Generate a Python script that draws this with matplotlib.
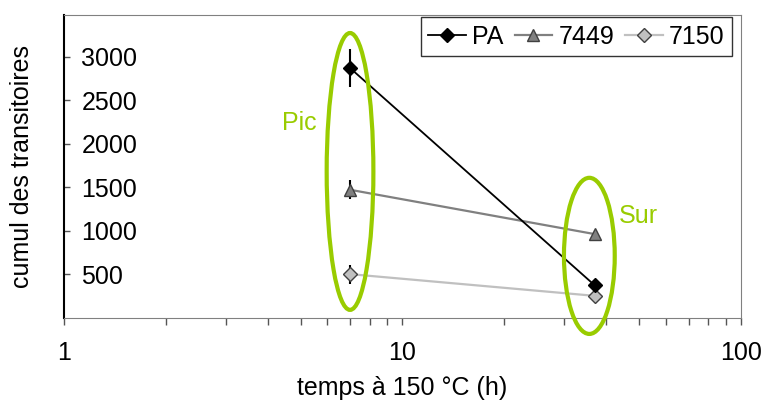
import matplotlib.pyplot as plt
from matplotlib.patches import Ellipse
from matplotlib.ticker import LogLocator, NullFormatter

plt.rcParams['font.family'] = ['Liberation Sans', 'DejaVu Sans']

# données
temps = [7, 37]
pa = [2870, 370]
pa_err = [220, 40]
a7449 = [1470, 960]
a7449_err = [110, 50]
a7150 = [500, 250]
a7150_err = [110, 30]
yticks = [500, 1000, 1500, 2000, 2500, 3000]

vert = '#99cc00'
fs = 18

fig = plt.figure(figsize=(7.63, 4.03), dpi=100)
ax = fig.add_axes([64 / 763, 1 - 317.6 / 403, 677 / 763, 302.6 / 403])

series = [
    (pa, pa_err, 'PA', 'black', 'D', 7, 'black', 1.3, 4),
    (a7449, a7449_err, '7449', '#808080', '^', 9, '#404040', 1.6, 3),
    (a7150, a7150_err, '7150', '#c0c0c0', 'D', 7, '#404040', 1.6, 3),
]
for vals, err, lab, col, mk, ms, mec, lw, z in series:
    ax.errorbar(temps, vals, yerr=err, fmt='none', ecolor='black', elinewidth=1.5,
                capsize=0, zorder=z)
    ax.plot(temps, vals, color=col, marker=mk, markersize=ms, markerfacecolor=col,
            markeredgecolor=mec, lw=lw, label=lab, zorder=z)

ax.set_xscale('log')
ax.set_xlim(1, 100)
ax.set_ylim(0, 3480)
ax.set_yticks(yticks)
ax.set_yticklabels([str(v) for v in yticks])
for lab in ax.get_yticklabels():
    lab.set_horizontalalignment('left')
ax.tick_params(axis='y', direction='in', length=4, width=1, pad=-12.5, labelsize=fs, color='#555555')
ax.xaxis.set_major_locator(LogLocator(base=10))
ax.xaxis.set_minor_locator(LogLocator(base=10, subs=range(2, 10)))
ax.xaxis.set_minor_formatter(NullFormatter())
ax.set_xticks([1, 10, 100])
ax.set_xticklabels(['1', '10', '100'])
ax.tick_params(axis='x', which='both', direction='out', length=5, width=1, pad=12,
               labelsize=fs, color='#555555')

for s in ['top', 'right']:
    ax.spines[s].set_color('#808080')
ax.spines['left'].set_color('black')
ax.spines['bottom'].set_color('#808080')
ax.spines['left'].set_linewidth(1.5)

ax.set_xlabel('temps à 150 °C (h)', fontsize=fs, va='center')
ax.set_ylabel('cumul des transitoires', fontsize=fs, va='center')
ax.xaxis.set_label_coords(0.5, -0.233)
ax.yaxis.set_label_coords(-0.062, 0.5)

# ellipses Pic / Sur
ax.add_patch(Ellipse((0.4225, 0.483), 0.069, 0.915, transform=ax.transAxes,
                     fill=False, edgecolor=vert, lw=3, clip_on=False, zorder=5))
ax.add_patch(Ellipse((0.776, 0.204), 0.075, 0.516, transform=ax.transAxes,
                     fill=False, edgecolor=vert, lw=3, clip_on=False, zorder=5))
ax.text(0.347, 0.643, 'Pic', transform=ax.transAxes, color=vert, fontsize=fs,
        ha='center', va='center')
ax.text(0.849, 0.336, 'Sur', transform=ax.transAxes, color=vert, fontsize=fs,
        ha='center', va='center')

leg = ax.legend(loc='upper right', bbox_to_anchor=(0.987, 0.993), ncol=3, fontsize=fs,
                frameon=True, fancybox=False, edgecolor='black', handlelength=1.5,
                handletextpad=0.25, columnspacing=0.45, borderpad=0.3, borderaxespad=0)
leg.get_frame().set_linewidth(1)

fig.savefig('out.png', dpi=100)
